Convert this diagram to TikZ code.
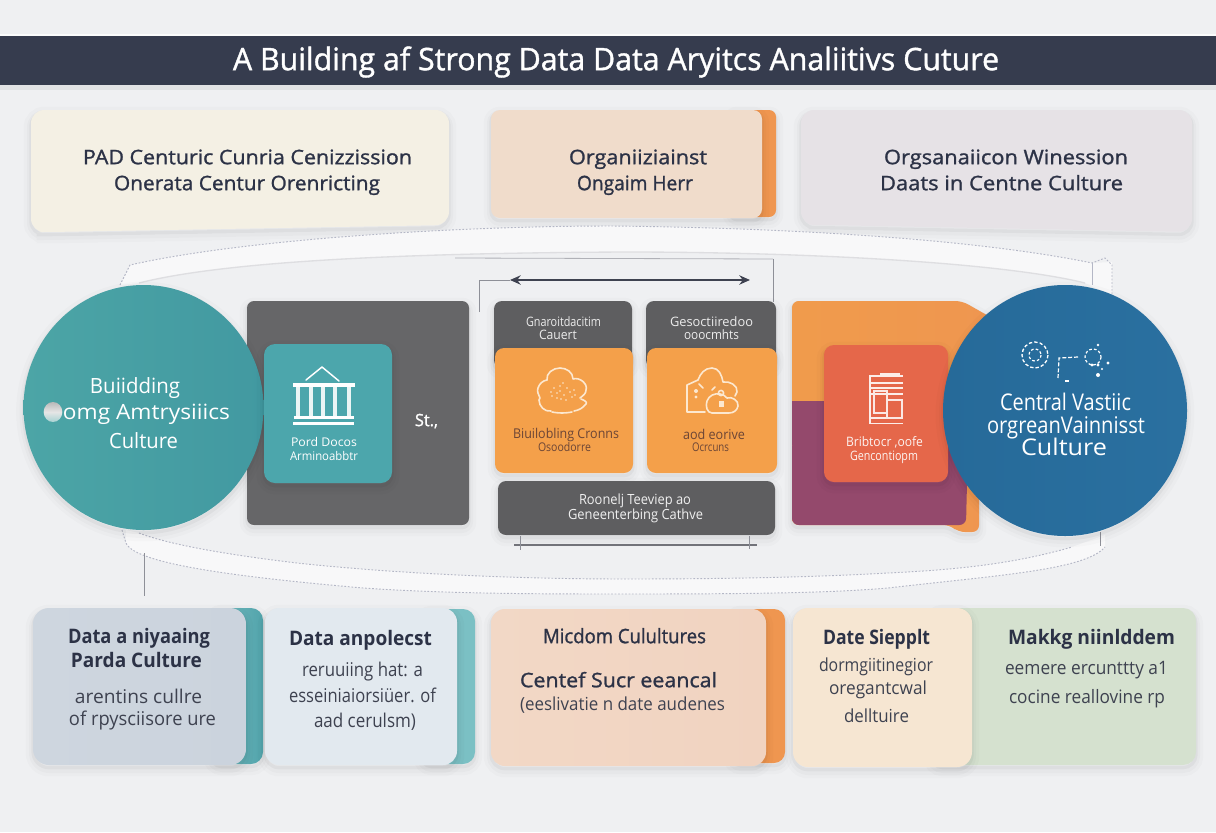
\documentclass[tikz,border=0pt]{standalone}
\usepackage{graphicx}
\usepackage{fontspec}
\setmainfont{Open Sans}
\newfontfamily\semif[FakeBold=1.2]{Open Sans}
\usetikzlibrary{shapes.geometric,arrows.meta}
\definecolor{bgc}{HTML}{EFF0F2}
\definecolor{barc}{HTML}{363C4E}
\definecolor{inkc}{HTML}{2C3246}
\definecolor{softink}{HTML}{3E4250}
\definecolor{graya}{HTML}{666668}
\definecolor{grayb}{HTML}{5E5E60}
\definecolor{orgc}{HTML}{F4A04A}
\definecolor{orgd}{HTML}{EF9650}
\definecolor{brnc}{HTML}{6B4536}
\definecolor{tealc}{HTML}{4CA6AC}
\definecolor{redc}{HTML}{E5674A}
\definecolor{purc}{HTML}{94496C}
\definecolor{dashc}{HTML}{B4B7C6}
\definecolor{linec}{HTML}{8E9098}
\definecolor{ribc}{HTML}{F8F8F9}
\definecolor{paleg}{HTML}{DEDEE1}
\definecolor{iconw}{HTML}{FCE8D0}
\tikzset{
 softsh/.style={
  preaction={draw=black,draw opacity=.014,line width=11pt,transform canvas={yshift=-3pt}},
  preaction={draw=black,draw opacity=.02,line width=6pt,transform canvas={yshift=-3pt}},
  preaction={draw=black,draw opacity=.035,line width=2.5pt,transform canvas={yshift=-2pt}}},
 ribbon/.style={fill=ribc,draw=none},
 dashedge/.style={draw=dashc,line width=.7pt,dash pattern=on 1.3pt off 1.3pt},
 thinln/.style={draw=linec,line width=.6pt},
 iconln/.style={draw=white,line width=1.1pt,line cap=round,line join=round},
 cloudln/.style={draw=iconw,line width=1.2pt,line cap=round,line join=round},
}
% card: name x1 y1 x2 y2 radius options
\newcommand\card[7]{%
 \pgfmathsetmacro\cw{(#4-#2)*.75}\pgfmathsetmacro\ch{(#5-#3)*.75}%
 \pgfmathsetmacro\cxx{(#2+#4)/2}\pgfmathsetmacro\cyy{(#3+#5)/2}%
 \node[draw=none,inner sep=0pt,outer sep=0pt,rounded corners=#6*.75pt,minimum width=\cw pt,minimum height=\ch pt,#7] (#1) at (\cxx,\cyy) {};}
% text line squeezed to an exact horizontal extent: name x1 x2 ycentre sizepx colour text
\newcommand\tl[7]{%
 \pgfmathsetmacro\tw{(#3-#2)*.75}\pgfmathsetmacro\txx{(#2+#3)/2}%
 \pgfmathsetmacro\tyy{#4+.36*#5}\pgfmathsetmacro\tf{#5*.75}%
 \node[anchor=base,inner sep=0pt,text=#6] (#1) at (\txx,\tyy) {\resizebox{\tw pt}{\height}{\fontsize{\tf}{\tf}\selectfont #7}};}
\begin{document}
\begin{tikzpicture}[x=.75pt,y=-.75pt]
\useasboundingbox (0,0) rectangle (1216,832);
\fill[bgc] (0,0) rectangle (1216,832);

% title bar
\fill[black,opacity=.05] (0,85) rectangle (1216,90);
\fill[white,opacity=.8] (0,34) rectangle (1216,36);
\card{bar}{0}{36}{1216}{85}{0}{fill=barc}
\tl{titletxt}{233}{999}{59}{31}{white}{\semif A Building af Strong Data Data Aryitcs Analiitivs Cuture}

% top cards
\path[softsh,fill={rgb,255:red,244;green,240;blue,228},rounded corners=10pt] (31,110) -- (449,110) -- (449,225) -- (50,232) -- (31,232) -- cycle;
\tl{ta}{83}{412}{157}{20}{inkc}{\semif PAD Centuric Cunria Cenizzission}
\tl{tb}{114}{380}{183}{20}{inkc}{\semif Onerata Centur Orenricting}

\card{oback}{730}{110}{776}{217}{7}{fill=orgd,softsh}
\card{ofront}{491}{110}{762}{218}{9}{softsh,fill={rgb,255:red,240;green,220;blue,203}}
\tl{tc}{569}{707}{157}{20}{inkc}{\semif Organiiziainst}
\tl{td}{577}{693}{183}{20}{inkc}{\semif Ongaim Herr}

\path[softsh,fill={rgb,255:red,230;green,226;blue,230},rounded corners=10pt] (801,110) -- (1192,110) -- (1192,232) -- (822,225) -- (801,225) -- cycle;
\tl{te}{884}{1128}{157}{20}{inkc}{\semif Orgsanaiicon Winession}
\tl{tf}{880}{1123}{183}{20}{inkc}{\semif Daats in Centne Culture}

% top ribbon
\path[ribbon] (120,285) -- (130,265) .. controls (240,240) and (450,226) .. (612,226) .. controls (800,228) and (980,240) .. (1092,263) -- (1112,262) -- (1112,295) -- (1085,283) .. controls (1000,262) and (800,252) .. (625,252) .. controls (420,252) and (230,260) .. (139,283) -- cycle;
\draw[dashedge] (120,285) -- (130,265) .. controls (240,240) and (450,226) .. (612,226) .. controls (800,228) and (980,240) .. (1092,263) -- (1105,258) -- (1112,265) -- (1112,295);
\draw[paleg,line width=1pt] (139,283) .. controls (230,260) and (420,253) .. (625,252) .. controls (800,252) and (1000,262) .. (1085,283);
\draw[dashc,line width=.5pt] (1092,263) -- (1092,285);

% bottom ribbon
\path[ribbon] (126,530) -- (126,543) .. controls (135,565) and (250,578) .. (363,588) .. controls (450,594) and (550,594) .. (625,594) .. controls (750,594) and (830,593) .. (888,588) .. controls (1000,575) and (1085,570) .. (1105,547) -- (1105,535) -- (1072,547) .. controls (1010,565) and (950,570) .. (888,573) .. controls (800,578) and (700,579) .. (625,579) .. controls (500,579) and (380,572) .. (297,563) .. controls (230,555) and (170,545) .. (139,533) -- cycle;
\draw[dashedge] (139,533) .. controls (170,545) and (230,555) .. (297,563) .. controls (380,572) and (500,579) .. (625,579) .. controls (700,579) and (800,578) .. (888,573) .. controls (950,570) and (1010,565) .. (1072,547);
\draw[dashedge] (122,530) -- (126,543) .. controls (135,565) and (250,578) .. (363,588) .. controls (450,594) and (550,594) .. (625,594) .. controls (750,594) and (830,593) .. (888,588) .. controls (1000,575) and (1085,570) .. (1105,547);

% bracket lines and arrows
\coordinate (brA) at (479,312); \coordinate (brB) at (479,280); \coordinate (arL) at (510,280); \coordinate (arR) at (750,280);
\coordinate (brC) at (773,302); \coordinate (brD) at (773,259); \coordinate (brE) at (455,258);
\draw[thinln] (brA) -- (brB) -- (arL);
\draw[thinln] (brC) -- (brD);
\draw[thinln,draw=linec!70!white] (brD) -- (brE);
\draw[draw=softink,line width=1.5pt,{Stealth[length=8pt,width=7pt]}-{Stealth[length=8pt,width=7pt]}] (arL) -- (arR);
\coordinate (lnA) at (144,553); \coordinate (lnB) at (144,596);
\draw[thinln,line width=.5pt] (lnA) -- (lnB);
\coordinate (lnC) at (1100,532); \coordinate (lnD) at (1100,546);
\draw[thinln,line width=.5pt] (lnC) -- (lnD);

% left group
\card{bigg}{247}{301}{469}{525}{7}{fill=graya,softsh}
\node[ellipse,draw=none,inner sep=0pt,minimum width=240*.75pt,minimum height=245*.75pt,left color={rgb,255:red,76;green,165;blue,166},right color={rgb,255:red,66;green,153;blue,161},softsh] (lcirc) at (143.5,407.5) {};
\tl{la}{90}{180}{386}{21}{white}{Buiidding}
\tl{lb}{63}{230}{412}{21}{white}{omg Amtrysiiics}
\tl{lc}{109}{178}{441}{21}{white}{Culture}
\node[ellipse,inner sep=0pt,minimum width=14pt,minimum height=15pt,top color=gray!55,bottom color=teal!35!white,middle color=white!80!gray] (blob) at (53,412) {};
\card{tsq}{264}{344}{392}{483}{11}{fill=tealc,softsh}
% temple icon
\draw[iconln] (306,380) -- (322,367) -- (339,381);
\fill[white] (293,383) rectangle (355,387);
\foreach \cx in {298,311,323,335,349} {\fill[white!92!teal] (\cx-1.7,387) rectangle (\cx+1.7,416);}
\fill[white] (294,416) rectangle (354,419);
\fill[white] (293,422) rectangle (354,425);
\tl{pa}{291}{357}{442}{12}{white}{Pord Docos}
\tl{pb}{290}{358}{456}{12}{white}{Arminoabbtr}
\tl{st}{415}{438}{420}{17}{white}{\semif St.,}

% centre group
\card{ga}{494}{301}{632}{368}{8}{fill=grayb,softsh}
\card{gb}{646}{301}{776}{368}{8}{fill=grayb,softsh}
\tl{gat}{526}{601}{322}{13}{white!85!gray}{Gnaroitdacitim}
\tl{gab}{539}{577}{335}{13}{white!85!gray}{Cauert}
\tl{gbt}{670}{753}{322}{13}{white!85!gray}{Gesoctiiredoo}
\tl{gbb}{684}{739}{335}{13}{white!85!gray}{ooocmhts}
\card{oa}{495}{348}{633}{473}{9}{fill=orgc,softsh}
\card{ob}{647}{348}{777}{473}{9}{fill=orgc,softsh}
% cloud icon A
\draw[cloudln] (547,380) to[out=100,in=180] (560,368) to[out=0,in=90] (573,379) to[out=20,in=70] (586,390) to[out=-90,in=40] (580,398);
\draw[cloudln] (581,399) to[out=-20,in=40] (586,404) to[out=-130,in=10] (574,411);
\draw[cloudln] (572,412) to[out=190,in=-10] (552,412);
\draw[cloudln] (551,411) to[out=190,in=-90] (539,400) to[out=80,in=-70] (540,398) to[out=110,in=-110] (538,388) to[out=70,in=190] (547,380);
\foreach \px/\py in {551/392,554/388,557/393,560/386,560/391,564/395,567/388,570/392,574/390,563/383,557/398,561/399,566/400,572/397,552/396,575/395} {\fill[iconw] (\px,\py) circle[radius=.95];}
% cloud icon B
\draw[cloudln] (705,412) -- (687,412) -- (687,385) -- (698,380) to[out=70,in=180] (712,368) to[out=0,in=100] (723,382) to[out=10,in=80] (737,392) -- (735,396);
\draw[cloudln] (712,413) to[out=180,in=250] (707,401) to[out=70,in=170] (720,394) to[out=-10,in=130] (727,398) to[out=20,in=80] (738,406) to[out=-100,in=0] (729,413) -- cycle;
\fill[iconw] (696,391) circle[radius=2];
\fill[iconw] (696,397) circle[radius=1.6];
\draw[cloudln] (699,384) -- (703,388);
\draw[cloudln] (712,390) -- (715,387);
\draw[cloudln] (721,393) circle[radius=2.6];
\fill[iconw] (719,401) rectangle (724,407);
\tl{oaa}{513}{619}{434}{13.5}{brnc}{Biuilobling Cronns}
\tl{oab}{538}{591}{447}{12}{brnc}{Osoodorre}
\tl{oba}{683}{745}{435}{13.5}{brnc}{aod eorive}
\tl{obb}{692}{729}{447}{12}{brnc}{Ocrcuns}
\card{gc}{498}{481}{775}{535}{8}{fill=grayb,softsh}
\tl{gca}{579}{691}{499}{14}{white!88!gray}{Roonelj Teeviep ao}
\tl{gcb}{568}{703}{514}{14}{white!88!gray}{Geneenterbing Cathve}
\coordinate (dmL) at (514,545); \coordinate (dmR) at (757,545);
\draw[draw=linec!80!black,line width=1pt] (dmL) -- (dmR);
\coordinate (tkA) at (520,536); \coordinate (tkB) at (520,550); \coordinate (tkC) at (749,536); \coordinate (tkD) at (749,549);
\draw[thinln] (tkA) -- (tkB); \draw[thinln] (tkC) -- (tkD);

% right group
\path[softsh,left color=orgd!95!yellow,right color=orgd,rounded corners=5pt] (792,301) -- (962,301) -- (992,318) -- (979,400) -- (979,532) -- (958,532) -- (950,525) -- (792,525) -- cycle;
\path[fill=purc,rounded corners=5pt] (792,440) -- (792,525) -- (966,525) -- (968,440) -- cycle;
\fill[purc] (792,401) rectangle (968,445);
\card{rsq}{824}{345}{948}{482}{10}{fill=redc,softsh}
% document icon
\foreach \yy in {376,383,388,394,418,423.5} {\fill[white!88!redc] (869,\yy-.9) rectangle (903,\yy+.9);}
\fill[white!88!redc] (880,373) rectangle (900,374.5);
\fill[white!88!redc] (868.5,376) rectangle (870.5,424);
\draw[white!85!redc,line width=.9pt] (874,391) rectangle (887,413);
\draw[white!85!redc,line width=.9pt] (887,400) rectangle (902,418);
\tl{rsa}{846}{923}{442}{13}{white!92!redc}{Bribtocr ,oofe}
\tl{rsb}{850}{918}{456}{13}{white!92!redc}{Gencontiopm}
\node[ellipse,draw=none,inner sep=0pt,minimum width=244*.75pt,minimum height=251*.75pt,left color={rgb,255:red,38;green,106;blue,153},right color={rgb,255:red,42;green,112;blue,160},softsh] (rcirc) at (1065,410.5) {};
\draw[white,line width=1pt,dash pattern=on 2.5pt off 1.6pt] (1035,355) circle[radius=13];
\draw[white,line width=.9pt,dash pattern=on 2pt off 1.6pt] (1035,355) circle[radius=6];
\draw[white,line width=.9pt,dash pattern=on 3pt off 1.4pt] (1078,357) -- (1059,358) -- (1058,378);
\draw[white,line width=1.2pt] (1065,381) -- (1069,381);
\draw[white,line width=.9pt,dash pattern=on 2pt off 1.6pt] (1093,357) circle[radius=8];
\fill[white] (1098,345) circle[radius=1.3];
\fill[white] (1108,363) circle[radius=1.6];
\fill[white] (1092,365) circle[radius=1.7];
\fill[white] (1098,365) circle[radius=1.7];
\fill[white] (1102,369) circle[radius=1.2];
\fill[white] (1098,375) circle[radius=2];
\tl{ca}{1000}{1131}{402}{23}{white}{Central Vastiic}
\tl{cb}{987}{1145}{425}{23}{white}{orgreanVainnisst}
\tl{cc}{1021}{1107}{447}{23}{white}{Culture}

% bottom cards
\card{b1b}{210}{608}{263}{764}{12}{left color={rgb,255:red,120;green,190;blue,195},right color={rgb,255:red,82;green,164;blue,171},softsh}
\card{b1}{33}{608}{246}{765}{16}{softsh,left color={rgb,255:red,206;green,214;blue,223},right color={rgb,255:red,203;green,211;blue,221}}
\tl{b1a}{68}{210}{636}{20}{inkc}{\bfseries Data a niyaaing}
\tl{b1c}{71}{202}{660}{20}{inkc}{\bfseries Parda Culture}
\tl{b1d}{75}{202}{697}{19}{softink}{arentins cullre}
\tl{b1e}{69}{216}{719}{19}{softink}{of rpysciisore ure}
\card{b2b}{420}{609}{475}{764}{12}{fill={rgb,255:red,123;green,192;blue,196},softsh}
\card{b2}{265}{608}{457}{765}{14}{softsh,fill={rgb,255:red,226;green,233;blue,239}}
\tl{b2a}{289}{432}{638}{20}{inkc}{\bfseries Data anpolecst}
\tl{b2c}{302}{423}{670}{19}{softink}{reruuiing hat: a}
\tl{b2d}{289}{436}{696}{19}{softink}{esseiniaiorsiüer. of}
\tl{b2e}{314}{416}{721}{19}{softink}{aad cerulsm)}
\card{b3b}{730}{609}{785}{763}{11}{fill=orgd,softsh}
\card{b3}{491}{609}{766}{766}{14}{softsh,left color={rgb,255:red,242;green,216;blue,198},right color={rgb,255:red,241;green,211;blue,192}}
\tl{b3a}{543}{706}{636}{20}{inkc}{\semif Micdom Culultures}
\tl{b3c}{520}{717}{680}{20}{inkc}{\semif Centef Sucr eeancal}
\tl{b3d}{520}{725}{704}{18}{softink}{(eeslivatie n date audenes}
\card{b5}{930}{608}{1196}{765}{13}{fill={rgb,255:red,213;green,225;blue,207},softsh}
\card{b4}{793}{608}{972}{767}{15}{softsh,fill={rgb,255:red,246;green,230;blue,210}}
\tl{b4a}{823}{930}{637}{20}{inkc}{\bfseries Date Siepplt}
\tl{b4c}{819}{933}{665}{18}{softink}{dormgiitinegior}
\tl{b4d}{829}{927}{688}{18}{softink}{oregantcwal}
\tl{b4e}{844}{909}{716}{18}{softink}{delltuire}
\tl{b5a}{1008}{1175}{637}{20}{inkc}{\bfseries Makkg niinlddem}
\tl{b5c}{1005}{1168}{668}{18.5}{softink}{eemere ercunttty a1}
\tl{b5d}{1009}{1165}{697}{18.5}{softink}{cocine reallovine rp}
\end{tikzpicture}
\end{document}
